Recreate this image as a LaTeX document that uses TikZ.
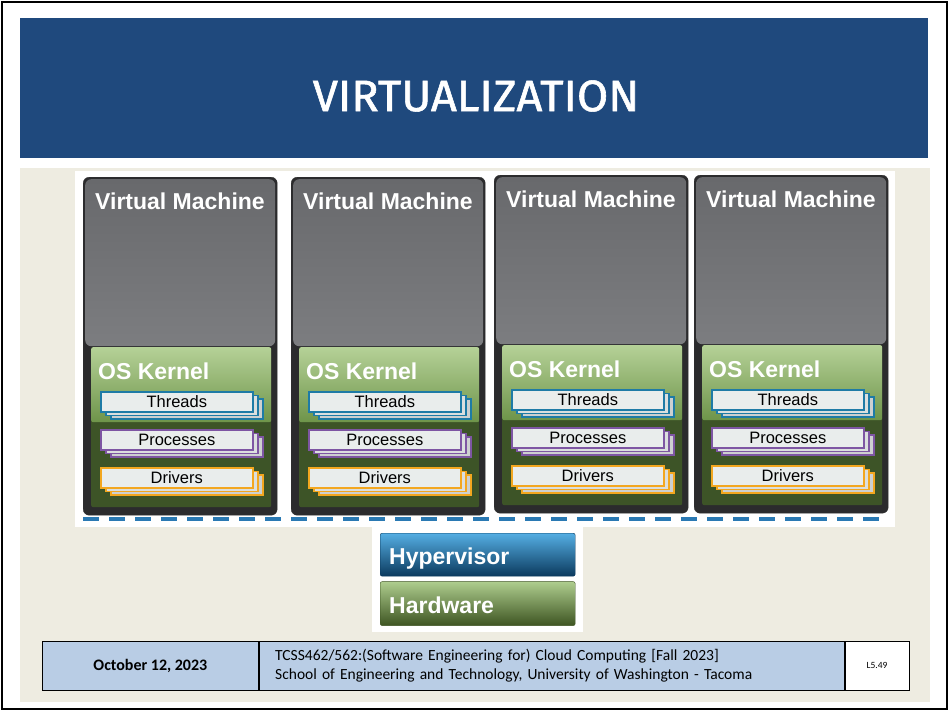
\documentclass[tikz,border=0pt]{standalone}
\usepackage{fontspec}
\setmainfont{Liberation Sans}
\newfontfamily\titlefont[FakeStretch=1.03, FakeBold=1.3]{Fira Sans}
\newfontfamily\footfont{Carlito}
\usetikzlibrary{positioning}

\definecolor{banner}{HTML}{1F497D}
\definecolor{slidebg}{HTML}{EEECE1}
\definecolor{vmdark}{HTML}{2B2B2D}
\definecolor{vmgrayA}{HTML}{68696C}
\definecolor{vmgrayB}{HTML}{7C7D80}
\definecolor{kerlight}{HTML}{B5D197}
\definecolor{kermid}{HTML}{6E944A}
\definecolor{kerdark}{HTML}{3D5427}
\definecolor{thrcol}{HTML}{1E7BA6}
\definecolor{proccol}{HTML}{7E56A3}
\definecolor{drvcol}{HTML}{F3A71F}
\definecolor{layerfill}{HTML}{E9EDEC}
\definecolor{layerback}{HTML}{CDD0D0}
\definecolor{buscol}{HTML}{2A79B3}
\definecolor{hyptop}{HTML}{55AEE3}
\definecolor{hypbot}{HTML}{0B3A5E}
\definecolor{hwtop}{HTML}{AECD8E}
\definecolor{hwbot}{HTML}{3E5522}
\definecolor{footblue}{HTML}{B9CDE5}

\tikzstyle{bannerbox} = [rectangle, fill=banner, minimum width=908pt, minimum height=140pt, inner sep=0pt]
\tikzstyle{titletext} = [text=white, font=\titlefont\fontsize{44}{48}\selectfont]
\tikzstyle{vmbox} = [rectangle, rounded corners=6pt, draw=black!80, fill=vmdark, minimum width=194pt, minimum height=338pt, inner sep=0pt]
\tikzstyle{vmtop} = [rectangle, rounded corners=6pt, top color=vmgrayA, bottom color=vmgrayB, minimum width=190pt, minimum height=167pt, inner sep=0pt]
\tikzstyle{vmlabel} = [text=white, font=\bfseries\fontsize{23}{26}\selectfont]
\tikzstyle{kernel} = [rectangle, rounded corners=2pt, fill=kerdark, minimum width=180pt, minimum height=160pt, inner sep=0pt]
\tikzstyle{kernelup} = [rectangle, rounded corners=2pt, top color=kerlight, bottom color=kermid, minimum width=180pt, minimum height=75pt, inner sep=0pt]
\tikzstyle{kerlabel} = [text=white, font=\bfseries\fontsize{23}{26}\selectfont, inner sep=0pt]
\tikzstyle{layer} = [rectangle, line width=1.6pt, fill=layerfill, minimum width=152pt, minimum height=20pt, inner sep=0pt, font=\fontsize{16.5}{18}\selectfont]
\tikzstyle{busline} = [line width=4pt, buscol, dash pattern=on 16pt off 10pt]
\tikzstyle{basebox} = [rectangle, rounded corners=2pt, text=white, font=\bfseries\fontsize{23}{26}\selectfont, text width=177pt, text height=20pt, text depth=1pt, align=left, inner xsep=9pt, minimum height=43pt]
\tikzstyle{footcell} = [rectangle, draw=black, line width=0.8pt, fill=footblue, minimum height=49pt, inner sep=0pt]
\tikzstyle{footpage} = [rectangle, draw=black, line width=0.8pt, fill=white, minimum height=49pt, minimum width=64pt, inner sep=0pt, font=\footfont\fontsize{9.5}{11}\selectfont]

\begin{document}
\begin{tikzpicture}[x=1pt, y=-1pt]
\useasboundingbox (0,0) rectangle (950,712);
\fill[white] (0,0) rectangle (950,712);
\draw[line width=2pt] (2,2) rectangle (947,709);

% title banner
\node (banner) [bannerbox, anchor=north west] at (20,18) {};
\node (title) [titletext] at (476,96) {VIRTUALIZATION};

% slide body and pasted figure
\fill[slidebg] (20,168) rectangle (930,702);
\fill[white] (75,171) rectangle (895,527);
\fill[white] (372,527) rectangle (583,632);

% the four guests
\foreach \i/\x/\y in {1/83/177, 2/291/177, 3/494/175, 4/694/175} {
  \node (vm\i) [vmbox, anchor=north west] at (\x,\y) {};
  \node (vmtop\i) [vmtop, anchor=north west] at ({\x+2},{\y+2}) {};
  \node (vmlabel\i) [vmlabel] at ({\x+97},{\y+24}) {Virtual Machine};
  \node (ker\i) [kernel, anchor=north west] at ({\x+8},{\y+170}) {};
  \node (kerup\i) [kernelup, anchor=north west] at (ker\i.north west) {};
  \node (kerlabel\i) [kerlabel, anchor=west] at ({\x+15},{\y+194}) {OS Kernel};
  \foreach \name/\col/\dy in {Threads/thrcol/214, Processes/proccol/252, Drivers/drvcol/290} {
    \node (\name back\i) [layer, draw=\col, fill=layerback, anchor=north west] at ({\x+27},{\y+\dy+7}) {};
    \node (\name mid\i) [layer, draw=\col, fill=layerback!50!layerfill, anchor=north west] at ({\x+22},{\y+\dy+3.5}) {};
    \node (\name\i) [layer, draw=\col, anchor=north west] at ({\x+17},{\y+\dy}) {\name};
  }
}

% shared bus under the guests
\coordinate (busL) at (83,519);
\coordinate (busR) at (888,519);
\draw[busline] (busL) -- (busR);

% host layers
\node (hyp) [basebox, draw=hypbot, top color=hyptop, bottom color=hypbot, anchor=north west] at (380,533) {Hypervisor};
\node (hw) [basebox, draw=hwbot, top color=hwtop, bottom color=hwbot, minimum height=44pt, below=5pt of hyp] {Hardware};

% footer
\node (date) [footcell, anchor=north west, minimum width=216pt, font=\footfont\bfseries\fontsize{16}{18}\selectfont] at (42,641) {October 12, 2023};
\node (course) [footcell, right=0pt of date, minimum width=585pt, text width=553pt, align=left, inner xsep=16pt, font=\footfont\fontsize{15.5}{18.5}\selectfont] {TCSS462/562:(Software Engineering for) Cloud Computing [Fall 2023]\\School of Engineering and Technology, University of Washington - Tacoma};
\node (page) [footpage, right=0pt of course] {L5.49};
\end{tikzpicture}
\end{document}
